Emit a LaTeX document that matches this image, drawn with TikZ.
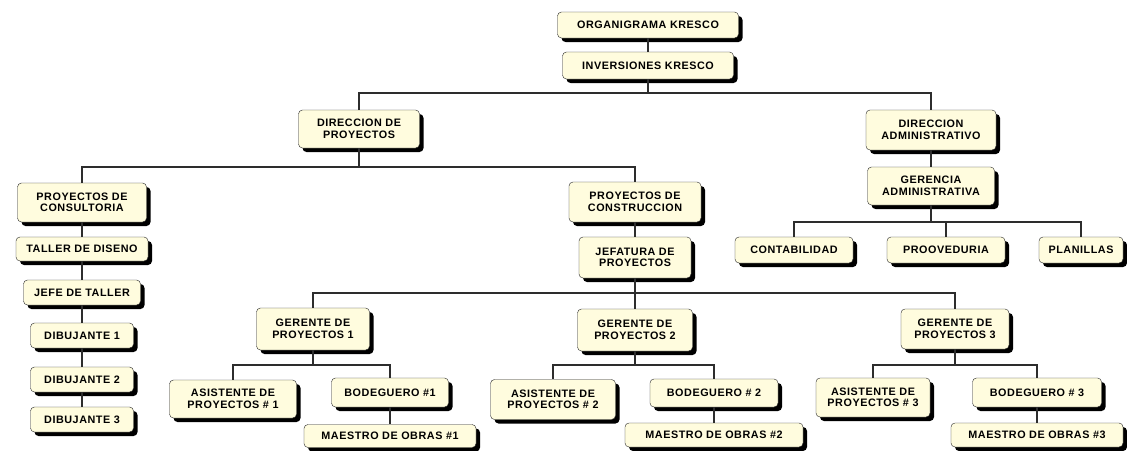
\documentclass[tikz,border=0pt]{standalone}
\usepackage{fontspec}
\setmainfont{Liberation Sans}[LetterSpace=5]
\usepackage{tikz}
\usetikzlibrary{shadows}

\definecolor{boxfill}{RGB}{255,252,222}
\definecolor{linkgray}{RGB}{45,45,45}

\begin{document}
\begin{tikzpicture}[x=1pt,y=-1pt]
            \tikzstyle{box node}=[draw=black!85,fill=boxfill,rounded corners=4pt,align=center,inner sep=1pt,font=\bfseries\fontsize{10.8}{11.5}\selectfont,drop shadow={shadow xshift=4pt,shadow yshift=-4pt,opacity=1,fill=black}]
            \tikzstyle{link}=[draw=linkgray,line width=1.6pt]
            \useasboundingbox[fill=white] (0,0) rectangle (1127,450);

            % top of the chart
            \node[box node,minimum width=181pt,minimum height=26pt] (OK) at (648,25) {ORGANIGRAMA KRESCO};
            \node[box node,minimum width=171pt,minimum height=27pt] (IK) at (648,65.5) {INVERSIONES KRESCO};
            \node[box node,minimum width=121pt,minimum height=38pt] (DP) at (359,129) {DIRECCION DE\\PROYECTOS};
            \node[box node,minimum width=130pt,minimum height=40pt] (DA) at (931,130) {DIRECCION\\ADMINISTRATIVO};

            % consultoria
            \node[box node,minimum width=129pt,minimum height=39pt] (PC) at (82,202.5) {PROYECTOS DE\\CONSULTORIA};
            \node[box node,minimum width=132pt,minimum height=24pt] (TD) at (82,249) {TALLER DE DISENO};
            \node[box node,minimum width=117pt,minimum height=25pt] (JT) at (82,292.5) {JEFE DE TALLER};
            \node[box node,minimum width=103pt,minimum height=25pt] (D1) at (82,335.5) {DIBUJANTE 1};
            \node[box node,minimum width=103pt,minimum height=25pt] (D2) at (82,379.5) {DIBUJANTE 2};
            \node[box node,minimum width=103pt,minimum height=25pt] (D3) at (82,419.5) {DIBUJANTE 3};

            % construccion
            \node[box node,minimum width=132pt,minimum height=40pt] (PO) at (635,202) {PROYECTOS DE\\CONSTRUCCION};
            \node[box node,minimum width=112pt,minimum height=41pt] (JP) at (635,257.5) {JEFATURA DE\\PROYECTOS};
            \node[box node,minimum width=113pt,minimum height=42pt] (G1) at (313,329) {GERENTE DE\\PROYECTOS 1};
            \node[box node,minimum width=115pt,minimum height=42pt] (G2) at (635,330) {GERENTE DE\\PROYECTOS 2};
            \node[box node,minimum width=108pt,minimum height=40pt] (G3) at (955,329) {GERENTE DE\\PROYECTOS 3};
            \node[box node,minimum width=127pt,minimum height=38pt] (A1) at (233,399) {ASISTENTE DE\\PROYECTOS \# 1};
            \node[box node,minimum width=117pt,minimum height=29pt] (B1) at (390,392.5) {BODEGUERO \#1};
            \node[box node,minimum width=172pt,minimum height=23pt] (M1) at (390,436) {MAESTRO DE OBRAS \#1};
            \node[box node,minimum width=125pt,minimum height=40pt] (A2) at (553,399.5) {ASISTENTE DE\\PROYECTOS \# 2};
            \node[box node,minimum width=128pt,minimum height=28pt] (B2) at (714,393) {BODEGUERO \# 2};
            \node[box node,minimum width=178pt,minimum height=24pt] (M2) at (714,435) {MAESTRO DE OBRAS \#2};
            \node[box node,minimum width=114pt,minimum height=39pt] (A3) at (873,397.5) {ASISTENTE DE\\PROYECTOS \# 3};
            \node[box node,minimum width=129pt,minimum height=29pt] (B3) at (1037,392.5) {BODEGUERO \# 3};
            \node[box node,minimum width=172pt,minimum height=24pt] (M3) at (1037,435) {MAESTRO DE OBRAS \#3};

            % administracion
            \node[box node,minimum width=127pt,minimum height=38pt] (GA) at (931,186) {GERENCIA\\ADMINISTRATIVA};
            \node[box node,minimum width=118pt,minimum height=26pt] (CO) at (794,250) {CONTABILIDAD};
            \node[box node,minimum width=118pt,minimum height=26pt] (PV) at (946,250) {PROOVEDURIA};
            \node[box node,minimum width=84pt,minimum height=26pt] (PL) at (1081,250) {PLANILLAS};

            \draw[link]
                (OK) -- (IK)
                (IK.south) -- ++(0,14) -| (DP.north)
                (IK.south) -- ++(0,14) -| (DA.north)
                (DP.south) -- ++(0,19) -| (PC.north)
                (DP.south) -- ++(0,19) -| (PO.north)
                (PC) -- (TD)
                (TD) -- (JT)
                (JT) -- (D1)
                (D1) -- (D2)
                (D2) -- (D3)
                (PO) -- (JP)
                (JP.south) -- ++(0,15) -| (G1.north)
                (JP.south) -- ++(0,15) -| (G2.north)
                (JP.south) -- ++(0,15) -| (G3.north)
                (G1.south) -- ++(0,15) -| (A1.north)
                (G1.south) -- ++(0,15) -| (B1.north)
                (B1) -- (M1)
                (G2.south) -- ++(0,14) -| (A2.north)
                (G2.south) -- ++(0,14) -| (B2.north)
                (B2) -- (M2)
                (G3.south) -- ++(0,16) -| (A3.north)
                (G3.south) -- ++(0,16) -| (B3.north)
                (B3) -- (M3)
                (DA) -- (GA)
                (GA.south) -- ++(0,17) -| (CO.north)
                (GA.south) -- ++(0,17) -| (PV.north)
                (GA.south) -- ++(0,17) -| (PL.north);
        \end{tikzpicture}
\end{document}
